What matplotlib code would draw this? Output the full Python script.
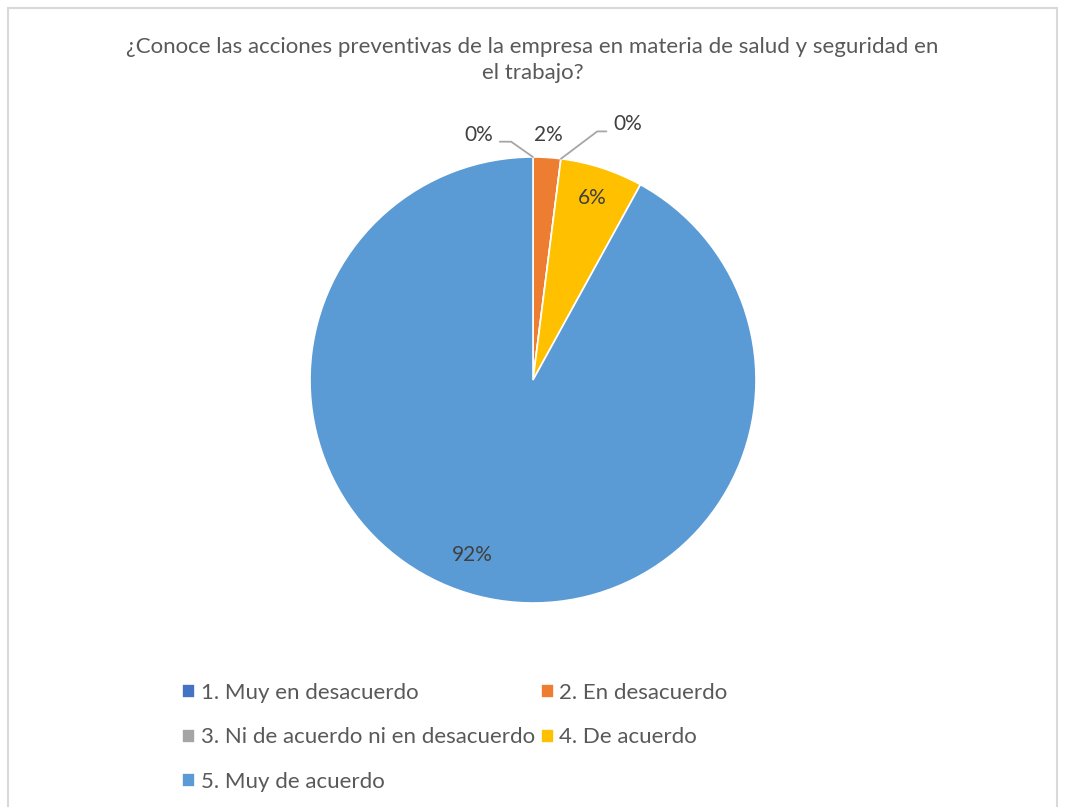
import numpy as np
import matplotlib.pyplot as plt
from matplotlib.patches import Rectangle

plt.rcParams['font.family'] = ['Lato', 'DejaVu Sans']

TITLE = "¿Conoce las acciones preventivas de la empresa en materia de salud y seguridad en\nel trabajo?"
CATEGORIES = ["1. Muy en desacuerdo", "2. En desacuerdo",
              "3. Ni de acuerdo ni en desacuerdo", "4. De acuerdo",
              "5. Muy de acuerdo"]
PERCENTS = [0, 2, 0, 6, 92]
COLORS = ["#4472C4", "#ED7D31", "#A5A5A5", "#FFC000", "#5B9BD5"]
TEXT_COLOR = "#404040"

fig = plt.figure(figsize=(10.65, 8.07), dpi=100)
fig.patch.set_facecolor("white")
fig.patches.append(Rectangle((8 / 1065, -0.1), 1049 / 1065, 1.1 - 8 / 807,
                             transform=fig.transFigure, fill=False,
                             edgecolor="#D9D9D9", linewidth=1.5))

fig.text(0.5, 1 - 60 / 807, TITLE, ha="center", va="center",
         fontsize=16, color="#595959", linespacing=1.4)

ax = fig.add_axes([310 / 1065, 1 - 603 / 807, 446 / 1065, 446 / 807])
wedges, _ = ax.pie(PERCENTS, colors=COLORS, startangle=90, counterclock=False,
                   wedgeprops=dict(edgecolor="white", linewidth=1.2))
ax.set_xlim(-1, 1)
ax.set_ylim(-1, 1)
ax.set_aspect("equal")

# label offsets for the empty slices: dx, dy, leader angle at the pie
zero_offsets = {0: (-0.18, 0.10, 145), 2: (0.235, 0.154, 37)}

for i, (w, p) in enumerate(zip(wedges, PERCENTS)):
    mid = np.deg2rad((w.theta1 + w.theta2) / 2)
    edge = (np.cos(mid), np.sin(mid))
    label = f"{p}%"
    if p == 0:
        dx, dy, ang = zero_offsets[i]
        ax.annotate(label, xy=edge, xytext=(edge[0] + dx, edge[1] + dy),
                    ha="right" if dx < 0 else "left", va="center",
                    fontsize=15, color=TEXT_COLOR, annotation_clip=False,
                    arrowprops=dict(arrowstyle="-", color="#A6A6A6", lw=1.3,
                                    shrinkA=3, shrinkB=0,
                                    relpos=(1, 0.15) if dx < 0 else (0, 0.15),
                                    connectionstyle="angle,angleA=0,angleB=%d,rad=0" % ang))
    elif p < 5:
        ax.text(edge[0] * 1.1, edge[1] * 1.1, label, ha="center", va="center",
                fontsize=15, color=TEXT_COLOR)
    elif p < 50:
        ax.text(edge[0] * 0.86, edge[1] * 0.86, label, ha="center",
                va="center", fontsize=15, color=TEXT_COLOR)
    else:
        ax.text(edge[0] * 0.81 - 0.07, edge[1] * 0.81, label, ha="center",
                va="center", fontsize=15, color=TEXT_COLOR)

# legend filled row by row, like the original
order = [0, 2, 4, 1, 3]
fig.legend([wedges[k] for k in order], [CATEGORIES[k] for k in order],
           ncol=2, loc="upper left",
           bbox_to_anchor=(162 / 1065, 1 - 663 / 807), frameon=False,
           fontsize=16, labelcolor="#595959", handlelength=0.6,
           handleheight=0.6, handletextpad=0.25, columnspacing=0.25,
           labelspacing=1.1)

fig.savefig("out.png", dpi=100)
